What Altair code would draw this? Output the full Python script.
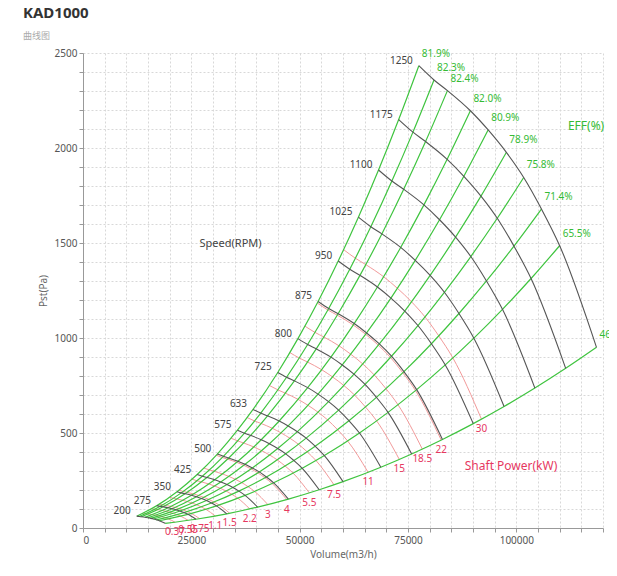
import altair as alt
import pandas as pd

# ---------------- data ----------------
speeds = [200, 275, 350, 425, 500, 575, 633, 725, 800, 875, 950, 1025, 1100, 1175, 1250]
base_speed = 1250
# operating points on the 1250 RPM curve (one per efficiency line)
base_volume = [77500, 81000, 84100, 89400, 93500, 97700, 101700, 105800, 110000, 118500]
base_pressure = [2433, 2358, 2302, 2196, 2095, 1977, 1845, 1679, 1486, 951]
efficiency = ["81.9%", "82.3%", "82.4%", "82.0%", "80.9%", "78.9%", "75.8%", "71.4%", "65.5%", "46.6%"]
# shaft power curves (kW) and the speed each one runs at
power_labels = ["0.37", "0.55", "0.75", "1.1", "1.5", "2.2", "3", "4", "5.5", "7.5",
                "11", "15", "18.5", "22", "30"]
power_speeds = [224, 256, 284, 322, 357, 406, 450, 496, 551, 611, 694, 770, 826, 872, 970]

GREEN = "#3fc43f"
GREEN_T = "#35bb35"
RED_L = "#f29a9a"
RED_T = "#e6385f"
GRAY = "#555555"


def curve(n):
    r = n / base_speed
    return [(q * r, p * r * r) for q, p in zip(base_volume, base_pressure)]


speed_rows, eff_rows, power_rows = [], [], []
for s in speeds:
    for i, (q, p) in enumerate(curve(s)):
        speed_rows.append({"grp": str(s), "i": i, "Q": q, "P": p})
        eff_rows.append({"grp": efficiency[i], "i": i, "Q": q, "P": p, "n": s})
for lab, s in zip(power_labels, power_speeds):
    for i, (q, p) in enumerate(curve(s)):
        power_rows.append({"grp": lab, "i": i, "Q": q, "P": p})

speed_df = pd.DataFrame(speed_rows)
eff_df = pd.DataFrame(eff_rows)
power_df = pd.DataFrame(power_rows)

speed_lab = speed_df[speed_df.i == 0]
eff_lab = eff_df[eff_df.n == base_speed]
power_lab = power_df[power_df.i == len(base_volume) - 1]

ann_speed = pd.DataFrame({"Q": [26900], "P": [1496], "t": ["Speed(RPM)"]})
ann_eff = pd.DataFrame({"Q": [111900], "P": [2117], "t": ["EFF(%)"]})
ann_pow = pd.DataFrame({"Q": [88100], "P": [328], "t": ["Shaft Power(kW)"]})

x_ticks = list(range(0, 120001, 5000))
y_ticks = list(range(0, 2501, 100))

X = alt.X("Q:Q", title="Volume(m3/h)",
          scale=alt.Scale(domain=[0, 120000], nice=False, zero=False),
          axis=alt.Axis(values=x_ticks,
                        labelExpr="datum.value % 25000 == 0 ? format(datum.value, 'd') : ''",
                        titlePadding=4, labelPadding=3))
Y = alt.Y("P:Q", title="Pst(Pa)",
          scale=alt.Scale(domain=[0, 2500], nice=False, zero=False),
          axis=alt.Axis(values=y_ticks,
                        labelExpr="datum.value % 500 == 0 ? format(datum.value, 'd') : ''",
                        titlePadding=6, labelPadding=2))

red_lines = alt.Chart(power_df).mark_line(color=RED_L, strokeWidth=1, interpolate="monotone").encode(
    x=X, y=Y, detail="grp:N")
green_lines = alt.Chart(eff_df).mark_line(color=GREEN, strokeWidth=1.2, interpolate="monotone").encode(
    x=X, y=Y, detail="grp:N")
gray_lines = alt.Chart(speed_df).mark_line(color=GRAY, strokeWidth=1.1, interpolate="monotone").encode(
    x=X, y=Y, detail="grp:N")

speed_text = alt.Chart(speed_lab).mark_text(align="right", baseline="middle", dx=-6, dy=-5,
                                             fontSize=10, color="#444").encode(x=X, y=Y, text="grp:N")
eff_text = alt.Chart(eff_lab).mark_text(align="left", baseline="middle", dx=3, dy=-12,
                                         fontSize=10, color=GREEN_T).encode(x=X, y=Y, text="grp:N")
power_text = alt.Chart(power_lab).mark_text(align="center", baseline="middle", dy=10,
                                             fontSize=10, color=RED_T).encode(x=X, y=Y, text="grp:N")
a1 = alt.Chart(ann_speed).mark_text(align="left", baseline="middle", fontSize=11, color="#444").encode(
    x=X, y=Y, text="t:N")
a2 = alt.Chart(ann_eff).mark_text(align="left", baseline="middle", fontSize=12, color=GREEN_T).encode(
    x=X, y=Y, text="t:N")
a3 = alt.Chart(ann_pow).mark_text(align="left", baseline="middle", fontSize=12, color=RED_T).encode(
    x=X, y=Y, text="t:N")

chart = alt.layer(red_lines, green_lines, gray_lines, speed_text, eff_text, power_text, a1, a2, a3).properties(
    width=520, height=475,
    title=alt.Title("KAD1000", subtitle="曲线图", anchor="start", frame="group", dx=-60, offset=7,
                    fontSize=15, fontWeight="bold", color="#333",
                    subtitleFontSize=9, subtitleColor="#aaa", subtitleFont="Noto Sans CJK SC",
                    subtitlePadding=11),
    autosize=alt.AutoSizeParams(type="none"),
    padding={"left": 75, "top": 45, "right": 6, "bottom": 40},
).configure(font="Noto Sans").configure_axis(
    labelFontSize=10, labelColor="#555", titleFontSize=10, titleColor="#666",
    titleFontWeight="normal", domainColor="#999", tickColor="#999", tickSize=4,
    gridColor="#d8d8d8", gridDash=[2, 2], gridWidth=1
).configure_view(stroke=None)

chart.save("out.html", embed_options={"renderer": "svg", "actions": False})
